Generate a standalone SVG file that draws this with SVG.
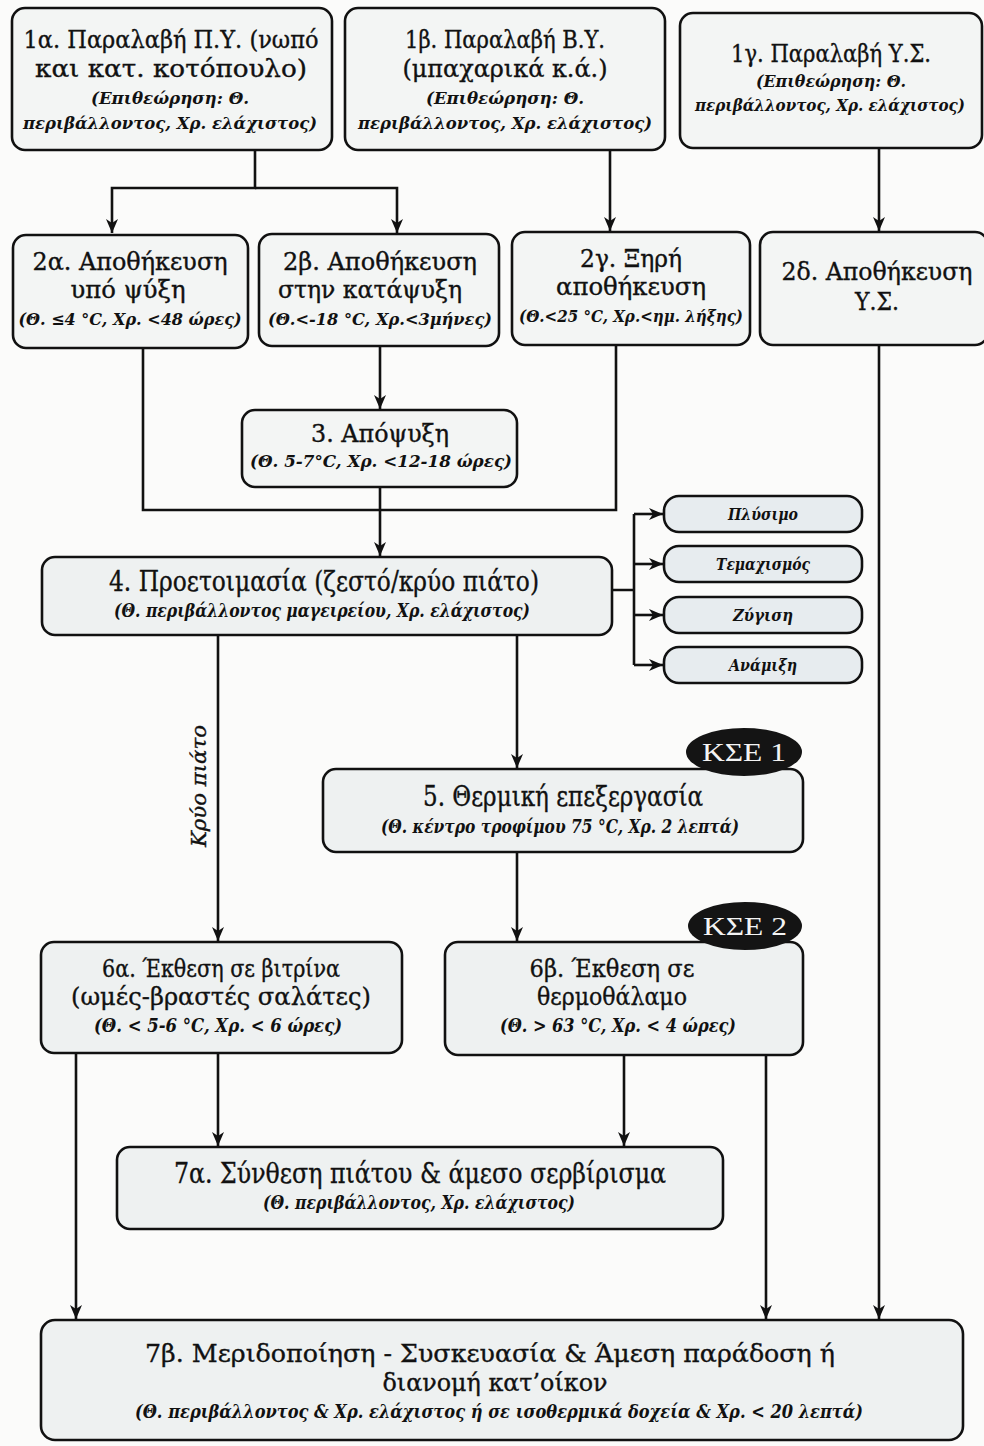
<svg xmlns="http://www.w3.org/2000/svg" width="984" height="1446" viewBox="0 0 984 1446">
<defs>
<marker id="arr" viewBox="0 0 14 12" refX="14" refY="6" markerWidth="14" markerHeight="12" orient="auto" markerUnits="userSpaceOnUse"><path d="M0,0 L14,6 L0,12 L4,6 z" fill="#111"/></marker>
<style>
.bx{fill:#f3f5f4;stroke:#111;stroke-width:2.6}
.bl{fill:#eef1f1;stroke:#111;stroke-width:2.6}
.sb{fill:#e7ecef;stroke:#111;stroke-width:2.6}
.t{font-family:"DejaVu Serif","Liberation Serif",serif;font-size:24px;fill:#111;stroke:#111;stroke-width:0.35;text-anchor:middle}
.tc{font-family:"DejaVu Serif","Liberation Serif",serif;font-size:25px;fill:#111;stroke:#111;stroke-width:0.35;text-anchor:middle}
.i{font-family:"DejaVu Serif","Liberation Serif",serif;font-size:17px;font-style:italic;font-weight:bold;fill:#111;text-anchor:middle}
.c{fill:none;stroke:#111;stroke-width:2.6}
.k{fill:#141414}
.kt{font-family:"Liberation Serif","DejaVu Serif",serif;font-size:25px;fill:#f4f4f4;text-anchor:middle}
</style>
</defs>
<rect width="984" height="1446" fill="#fbfbfa"/>

<g id="connectors">
<path class="c" d="M255,150 V188 H112 V233" marker-end="url(#arr)"/>
<path class="c" d="M255,188 H397 V233" marker-end="url(#arr)"/>
<path class="c" d="M610,150 V231" marker-end="url(#arr)"/>
<path class="c" d="M879,148 V231" marker-end="url(#arr)"/>
<path class="c" d="M380,346 V409" marker-end="url(#arr)"/>
<path class="c" d="M143,348 V510 H616 V344"/>
<path class="c" d="M380,487 V556" marker-end="url(#arr)"/>
<path class="c" d="M612,590 H634 M634,514 V665"/>
<path class="c" d="M634,514 H663" marker-end="url(#arr)"/>
<path class="c" d="M634,564 H663" marker-end="url(#arr)"/>
<path class="c" d="M634,615 H663" marker-end="url(#arr)"/>
<path class="c" d="M634,665 H663" marker-end="url(#arr)"/>
<path class="c" d="M218,635 V941" marker-end="url(#arr)"/>
<path class="c" d="M517,635 V768" marker-end="url(#arr)"/>
<path class="c" d="M517,852 V941" marker-end="url(#arr)"/>
<path class="c" d="M879,344 V1319" marker-end="url(#arr)"/>
<path class="c" d="M76,1053 V1319" marker-end="url(#arr)"/>
<path class="c" d="M218,1053 V1146" marker-end="url(#arr)"/>
<path class="c" d="M624,1055 V1146" marker-end="url(#arr)"/>
<path class="c" d="M766,1055 V1319" marker-end="url(#arr)"/>
<text transform="translate(206,786) rotate(-90)" class="i" style="font-size:21px;font-weight:normal;stroke:#111;stroke-width:0.4" textLength="122" lengthAdjust="spacingAndGlyphs">Κρύο πιάτο</text>
</g>

<g id="n1a">
<rect class="bx" x="12" y="8" width="320" height="142" rx="13"/>
<text class="t" x="171" y="48" textLength="295" lengthAdjust="spacingAndGlyphs">1α. Παραλαβή Π.Υ. (νωπό</text>
<text class="t" x="171" y="77" textLength="272" lengthAdjust="spacingAndGlyphs">και κατ. κοτόπουλο)</text>
<text class="i" x="170" y="104" textLength="158" lengthAdjust="spacingAndGlyphs">(Επιθεώρηση: Θ.</text>
<text class="i" x="170" y="129" textLength="294" lengthAdjust="spacingAndGlyphs">περιβάλλοντος, Χρ. ελάχιστος)</text>
</g>

<g id="n1b">
<rect class="bx" x="345" y="8" width="320" height="142" rx="13"/>
<text class="t" x="505" y="48" textLength="200" lengthAdjust="spacingAndGlyphs">1β. Παραλαβή Β.Υ.</text>
<text class="t" x="505" y="77" textLength="205" lengthAdjust="spacingAndGlyphs">(μπαχαρικά κ.ά.)</text>
<text class="i" x="505" y="104" textLength="158" lengthAdjust="spacingAndGlyphs">(Επιθεώρηση: Θ.</text>
<text class="i" x="505" y="129" textLength="294" lengthAdjust="spacingAndGlyphs">περιβάλλοντος, Χρ. ελάχιστος)</text>
</g>

<g id="n1c">
<rect class="bx" x="680" y="13" width="302" height="135" rx="13"/>
<text class="t" x="831" y="62" textLength="200" lengthAdjust="spacingAndGlyphs">1γ. Παραλαβή Υ.Σ.</text>
<text class="i" x="831" y="87" textLength="150" lengthAdjust="spacingAndGlyphs">(Επιθεώρηση: Θ.</text>
<text class="i" x="830" y="111" style="font-size:16px" textLength="270" lengthAdjust="spacingAndGlyphs">περιβάλλοντος, Χρ. ελάχιστος)</text>
</g>

<g id="n2a">
<rect class="bx" x="13" y="235" width="235" height="113" rx="13"/>
<text class="t" x="130" y="270" textLength="195" lengthAdjust="spacingAndGlyphs">2α. Αποθήκευση</text>
<text class="t" x="128" y="298" textLength="115" lengthAdjust="spacingAndGlyphs">υπό ψύξη</text>
<text class="i" x="130" y="325" textLength="223" lengthAdjust="spacingAndGlyphs">(Θ. ≤4 °C, Χρ. &lt;48 ώρες)</text>
</g>

<g id="n2b">
<rect class="bx" x="259" y="234" width="240" height="112" rx="13"/>
<text class="t" x="380" y="270" textLength="194" lengthAdjust="spacingAndGlyphs">2β. Αποθήκευση</text>
<text class="t" x="370" y="298" textLength="184" lengthAdjust="spacingAndGlyphs">στην κατάψυξη</text>
<text class="i" x="380" y="325" textLength="224" lengthAdjust="spacingAndGlyphs">(Θ.&lt;-18 °C, Χρ.&lt;3μήνες)</text>
</g>

<g id="n2c">
<rect class="bx" x="512" y="232" width="238" height="113" rx="13"/>
<text class="t" x="631" y="267" textLength="102" lengthAdjust="spacingAndGlyphs">2γ. Ξηρή</text>
<text class="t" x="631" y="295" textLength="150" lengthAdjust="spacingAndGlyphs">αποθήκευση</text>
<text class="i" x="631" y="322" textLength="224" lengthAdjust="spacingAndGlyphs">(Θ.&lt;25 °C, Χρ.&lt;ημ. λήξης)</text>
</g>

<g id="n2d">
<rect class="bx" x="760" y="232" width="228" height="113" rx="13"/>
<text class="t" x="877" y="280" textLength="191" lengthAdjust="spacingAndGlyphs">2δ. Αποθήκευση</text>
<text class="t" x="877" y="310" textLength="44" lengthAdjust="spacingAndGlyphs">Υ.Σ.</text>
</g>

<g id="n3">
<rect class="bx" x="242" y="410" width="275" height="77" rx="13"/>
<text class="t" x="380" y="442" textLength="138" lengthAdjust="spacingAndGlyphs">3. Απόψυξη</text>
<text class="i" x="381" y="467" textLength="262" lengthAdjust="spacingAndGlyphs">(Θ. 5-7°C, Χρ. &lt;12-18 ώρες)</text>
</g>

<g id="n4">
<rect class="bl" x="42" y="557" width="570" height="78" rx="13"/>
<text class="tc" x="324" y="591" style="font-size:27px" textLength="430" lengthAdjust="spacingAndGlyphs">4. Προετοιμασία (ζεστό/κρύο πιάτο)</text>
<text class="i" x="322" y="617" style="font-size:18px" textLength="416" lengthAdjust="spacingAndGlyphs">(Θ. περιβάλλοντος μαγειρείου, Χρ. ελάχιστος)</text>
</g>

<g id="nplysimo">
<rect class="sb" x="664" y="496" width="198" height="36" rx="15"/>
<text class="i" x="763" y="520" textLength="70" lengthAdjust="spacingAndGlyphs">Πλύσιμο</text>
</g>
<g id="ntemax">
<rect class="sb" x="664" y="546" width="198" height="36" rx="15"/>
<text class="i" x="763" y="570" textLength="94" lengthAdjust="spacingAndGlyphs">Τεμαχισμός</text>
</g>
<g id="nzygisi">
<rect class="sb" x="664" y="597" width="198" height="36" rx="15"/>
<text class="i" x="763" y="621" textLength="60" lengthAdjust="spacingAndGlyphs">Ζύγιση</text>
</g>
<g id="nanamixi">
<rect class="sb" x="664" y="647" width="198" height="36" rx="15"/>
<text class="i" x="763" y="671" textLength="68" lengthAdjust="spacingAndGlyphs">Ανάμιξη</text>
</g>

<g id="n5">
<rect class="bl" x="323" y="769" width="480" height="83" rx="13"/>
<text class="tc" x="563" y="806" style="font-size:27px" textLength="280" lengthAdjust="spacingAndGlyphs">5. Θερμική επεξεργασία</text>
<text class="i" x="560" y="833" style="font-size:18px" textLength="358" lengthAdjust="spacingAndGlyphs">(Θ. κέντρο τροφίμου 75 °C, Χρ. 2 λεπτά)</text>
</g>
<g id="kse1">
<ellipse class="k" cx="744" cy="752" rx="58" ry="24"/>
<text class="kt" x="744" y="761" textLength="84" lengthAdjust="spacingAndGlyphs">ΚΣΕ 1</text>
</g>

<g id="n6a">
<rect class="bl" x="41" y="942" width="361" height="111" rx="13"/>
<text class="tc" x="221" y="977" textLength="238" lengthAdjust="spacingAndGlyphs">6α. Έκθεση σε βιτρίνα</text>
<text class="tc" x="221" y="1005" textLength="300" lengthAdjust="spacingAndGlyphs">(ωμές-βραστές σαλάτες)</text>
<text class="i" x="218" y="1032" style="font-size:18px" textLength="248" lengthAdjust="spacingAndGlyphs">(Θ. &lt; 5-6 °C, Χρ. &lt; 6 ώρες)</text>
</g>

<g id="n6b">
<rect class="bl" x="445" y="942" width="358" height="113" rx="13"/>
<text class="tc" x="612" y="977" textLength="165" lengthAdjust="spacingAndGlyphs">6β. Έκθεση σε</text>
<text class="tc" x="612" y="1005" textLength="150" lengthAdjust="spacingAndGlyphs">θερμοθάλαμο</text>
<text class="i" x="618" y="1032" style="font-size:18px" textLength="236" lengthAdjust="spacingAndGlyphs">(Θ. &gt; 63 °C, Χρ. &lt; 4 ώρες)</text>
</g>
<g id="kse2">
<ellipse class="k" cx="745" cy="926" rx="57" ry="24"/>
<text class="kt" x="745" y="935" textLength="84" lengthAdjust="spacingAndGlyphs">ΚΣΕ 2</text>
</g>

<g id="n7a">
<rect class="bl" x="117" y="1147" width="606" height="82" rx="13"/>
<text class="tc" x="420" y="1183" style="font-size:27px" textLength="492" lengthAdjust="spacingAndGlyphs">7α. Σύνθεση πιάτου &amp; άμεσο σερβίρισμα</text>
<text class="i" x="419" y="1209" style="font-size:18px" textLength="312" lengthAdjust="spacingAndGlyphs">(Θ. περιβάλλοντος, Χρ. ελάχιστος)</text>
</g>

<g id="n7b">
<rect class="bl" x="41" y="1320" width="922" height="120" rx="14"/>
<text class="tc" x="490" y="1362" textLength="690" lengthAdjust="spacingAndGlyphs">7β. Μεριδοποίηση - Συσκευασία &amp; Άμεση παράδοση ή</text>
<text class="tc" x="495" y="1391" textLength="225" lengthAdjust="spacingAndGlyphs">διανομή κατ’οίκον</text>
<text class="i" x="499" y="1418" style="font-size:18px" textLength="728" lengthAdjust="spacingAndGlyphs">(Θ. περιβάλλοντος &amp; Χρ. ελάχιστος ή σε ισοθερμικά δοχεία &amp; Χρ. &lt; 20 λεπτά)</text>
</g>
</svg>
